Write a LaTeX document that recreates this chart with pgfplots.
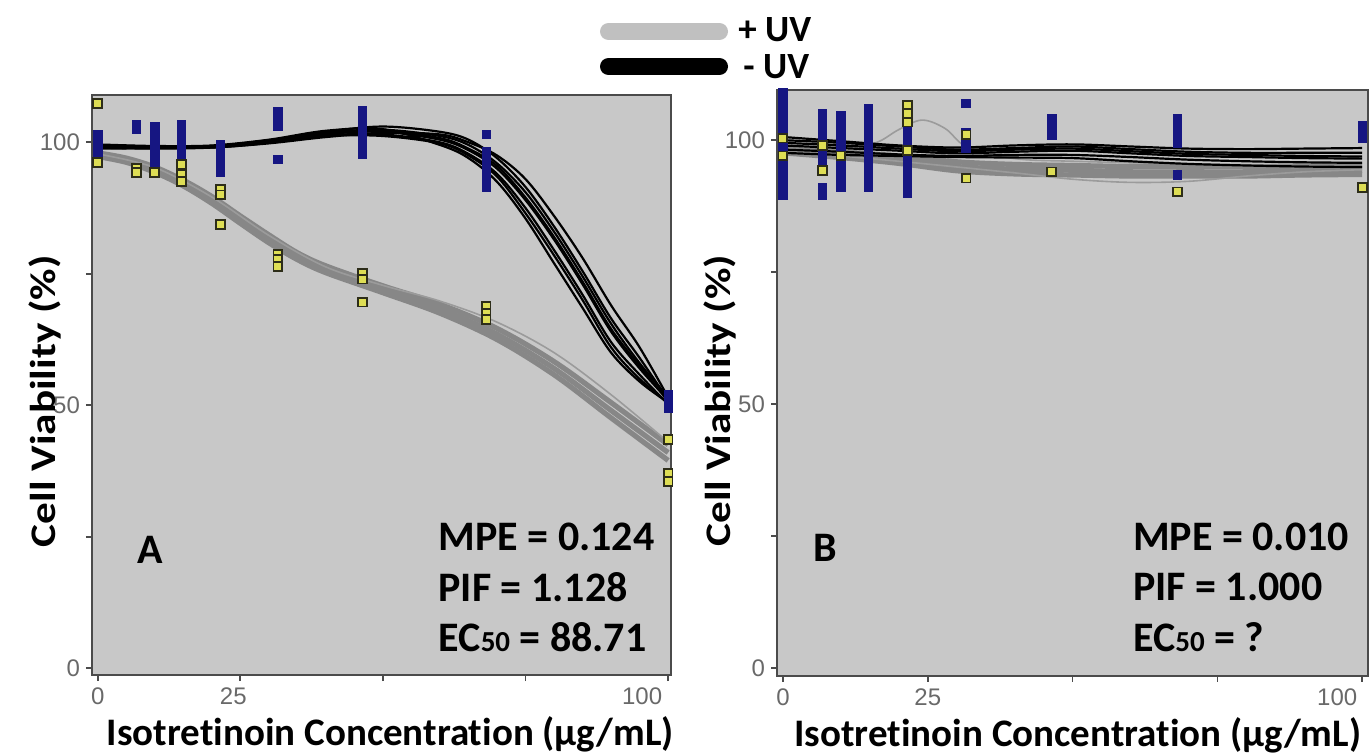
\documentclass[border=0pt]{standalone}
\usepackage{fontspec}
\setmainfont{Carlito}[Ligatures={NoCommon}]
\newfontfamily\tickfont{Liberation Sans}
\usepackage{graphicx}
\usepackage{pgfplots}
\pgfplotsset{compat=1.18}

\definecolor{plotbg}{RGB}{200,200,200}
\definecolor{framec}{RGB}{75,75,75}
\definecolor{uvgrey}{RGB}{135,135,135}
\definecolor{uvgreythin}{RGB}{155,155,155}
\definecolor{legendgrey}{RGB}{192,192,192}
\definecolor{navy}{RGB}{22,22,130}
\definecolor{ydot}{RGB}{222,222,85}
\definecolor{ydotedge}{RGB}{45,45,25}
\definecolor{ticktext}{RGB}{105,105,105}

\pgfplotsset{
  panel/.style={
    scale only axis,
    axis background/.style={fill=plotbg},
    axis line style={draw=framec, line width=1.4pt},
    xtick={0,25,50,75,100},
    ytick={0,25,50,75,100}, yticklabels={0,,50,,100},
    xtick pos=bottom, ytick pos=left,
    tick align=outside, major tick length=3pt,
    tick style={draw=framec, line width=0.9pt},
    ticklabel style={font=\tickfont\fontsize{12}{13}\selectfont, text=ticktext},
    yticklabel style={xshift=0.5pt},
    xlabel style={font=\bfseries\fontsize{19.5}{22}\selectfont},
    ylabel style={font=\bfseries\fontsize{18}{20}\selectfont},
    xlabel={Isotretinoin Concentration (µg/mL)},
    ylabel={\scalebox{1.2}[1]{Cell Viability (\%)}},
  },
  minusuv/.style={only marks, mark=square*, mark size=2.1pt, mark options={fill=navy, draw=navy}},
  plusuv/.style={only marks, mark=square*, mark size=2.2pt, mark options={fill=ydot, draw=ydotedge, line width=0.9pt}},
  fitblack/.style={black, line width=1.1pt, smooth, tension=0.55},
  fitgrey/.style={uvgrey, line width=2.6pt, smooth, tension=0.55},
}
\tikzset{
  stat/.style={font=\bfseries\fontsize{21}{25}\selectfont, anchor=west, inner sep=0pt},
  legtext/.style={anchor=west, inner sep=0pt, font=\bfseries\fontsize{18.5}{20}\selectfont},
}
\newcommand{\sub}[1]{{\fontsize{14.5}{17}\selectfont #1}}

\begin{document}
\begin{tikzpicture}

% ---------------- Panel A ----------------
\begin{axis}[panel,
  at={(46pt,40pt)}, anchor=south west,
  width=289.5pt, height=290pt,
  xmin=-1, xmax=100.5, ymin=-1.3, ymax=109,
  xticklabels={0,\hspace*{-7pt}25,,,\llap{100\hspace{3pt}}},
  xlabel style={at={(axis description cs:0.515,-0.103)}, anchor=center},
  ylabel style={at={(axis description cs:-0.081,0.472)}, anchor=center, rotate=0},
]
% replicate measurements, -UV
\addplot[minusuv] coordinates {
  (0,98) (0,99) (0,100) (0,101.5)
  (6.8,103.4) (6.8,102.5)
  (10,103) (10,101.5) (10,100) (10,98.5) (10,97) (10,95.8)
  (14.7,103.4) (14.7,102) (14.7,100.5) (14.7,99) (14.7,97.3)
  (21.5,99.6) (21.5,98) (21.5,96.5) (21.5,95) (21.5,94.3)
  (31.6,105.9) (31.6,104.5) (31.6,103) (31.6,96.8)
  (46.4,106) (46.4,104.5) (46.4,103) (46.4,101.5) (46.4,100) (46.4,98.5) (46.4,97.7)
  (68.1,101.5) (68.1,98.3) (68.1,97) (68.1,95.5) (68.1,94) (68.1,92.5) (68.1,91.4)
  (100,52) (100,51) (100,50) (100,49.5)
};
% replicate measurements, +UV
\addplot[plusuv] coordinates {
  (0,107.4) (0,96.2)
  (6.8,95) (6.8,94.3)
  (10,94.3)
  (14.7,95.8) (14.7,93.9) (14.7,92.6)
  (21.5,91) (21.5,90) (21.5,84.4)
  (31.6,78.7) (31.6,77.8) (31.6,76.4)
  (46.4,75) (46.4,74) (46.4,69.6)
  (68.1,68.8) (68.1,67.5) (68.1,66.3)
  (100,43.5) (100,37) (100,35.5)
};
% bootstrap fits, +UV
\addplot[fitgrey] coordinates {(0,97.6) (5,96.6) (10,94.8) (15,92.2) (20,89) (25,85.2) (30,81.6) (35,78.3) (40,75.8) (50,72) (60,68.3) (70,63.5) (80,57) (90,49) (100,41)};
\addplot[fitgrey] coordinates {(0,98) (5,97) (10,95.3) (15,92.8) (20,89.7) (25,86) (30,82.4) (35,79) (40,76.5) (50,72.7) (60,69.2) (70,64.6) (80,58.3) (90,50.5) (100,42.5)};
\addplot[fitgrey] coordinates {(0,97.3) (5,96.2) (10,94.3) (15,91.7) (20,88.4) (25,84.6) (30,80.9) (35,77.7) (40,75.2) (50,71.4) (60,67.5) (70,62.5) (80,55.8) (90,47.6) (100,39.5)};
\addplot[uvgreythin, line width=0.8pt, smooth, tension=0.55] coordinates {(0,97.8) (10,95.2) (20,89.6) (30,82.3) (40,76.3) (50,72.8) (60,69.8) (70,65.8) (80,60) (90,52) (100,43)};
% bootstrap fits, -UV
\addplot[fitblack] coordinates {(0,99.3) (10,99.0) (20,99.2) (30,100.2) (40,101.6) (50,102.0) (60,100.5) (65,98.5) (70,95) (75,89) (80,81.5) (85,73) (90,64) (95,57) (100,51)};
\addplot[fitblack] coordinates {(0,99.0) (10,98.8) (20,99.0) (30,99.8) (40,101.0) (50,101.8) (60,101.5) (65,100) (70,97.5) (75,93) (80,86) (85,78) (90,69) (95,61) (100,51.5)};
\addplot[fitblack] coordinates {(0,99.6) (10,99.3) (20,99.4) (30,100.5) (40,102.2) (50,102.5) (60,99.5) (65,97) (70,92.5) (75,85.5) (80,77) (85,68.5) (90,60) (95,54.5) (100,50.5)};
\addplot[fitblack] coordinates {(0,98.8) (10,98.9) (20,99.1) (30,100) (40,101.3) (50,101.5) (60,100) (65,97.8) (70,94) (75,87.5) (80,79.5) (85,71) (90,62) (95,55.8) (100,50.2)};
\addplot[fitblack] coordinates {(0,99.5) (10,99.2) (20,99.3) (30,100.4) (40,102) (50,103) (60,102) (65,100.5) (70,97) (75,91.5) (80,84) (85,75.5) (90,66.5) (95,59) (100,51)};
\addplot[fitblack] coordinates {(0,99.1) (10,99.1) (20,99.0) (30,99.9) (40,101.2) (50,101.2) (60,99.8) (65,97.5) (70,93.5) (75,86.5) (80,78.5) (85,70) (90,61) (95,55) (100,50.5)};
\addplot[fitblack] coordinates {(0,99.4) (10,99.2) (20,99.3) (30,100.3) (40,101.8) (50,102.4) (60,101.2) (65,99.5) (70,96) (75,90.5) (80,83) (85,74.5) (90,65.5) (95,58) (100,51.5)};
\addplot[fitblack] coordinates {(0,99.2) (10,99.0) (20,99.1) (30,100.1) (40,101.5) (50,102.2) (60,100.8) (65,98.8) (70,95.5) (75,89.5) (80,82) (85,73.5) (90,64.5) (95,57.5) (100,50.8)};

\node[font=\bfseries\fontsize{21}{25}\selectfont, anchor=center] at (rel axis cs:0.1,0.216) {A};
\node[stat] at (rel axis cs:0.598,0.238) {MPE = 0.124};
\node[stat] at (rel axis cs:0.598,0.152) {PIF = 1.128};
\node[stat] at (rel axis cs:0.598,0.0655) {EC\sub{50} = 88.71};
\end{axis}

% ---------------- Panel B ----------------
\begin{axis}[panel,
  at={(388.5pt,39.5pt)}, anchor=south west,
  width=295.5pt, height=293pt,
  xmin=-1.03, xmax=101, ymin=-1.5, ymax=109.5,
  xticklabels={0,25,,,\llap{100\hspace{2.5pt}}},
  xlabel style={at={(axis description cs:0.509,-0.1007)}, anchor=center},
  ylabel style={at={(axis description cs:-0.0964,0.47)}, anchor=center, rotate=0},
]
% replicate measurements, -UV
\addplot[minusuv] coordinates {
  (0,109) (0,107.5) (0,106) (0,104.5) (0,103) (0,101.5) (0,100) (0,98.5) (0,97) (0,95.5) (0,94) (0,92.5) (0,91) (0,89.5)
  (6.8,105) (6.8,103.5) (6.8,102) (6.8,100.5) (6.8,99) (6.8,97.5) (6.8,96) (6.8,91) (6.8,89.5)
  (10,104.7) (10,103) (10,101.5) (10,100) (10,98.5) (10,97) (10,95.5) (10,94) (10,92.5) (10,91)
  (14.7,106) (14.7,104.5) (14.7,103) (14.7,101.5) (14.7,100) (14.7,98.5) (14.7,97) (14.7,95.5) (14.7,94) (14.7,92.5) (14.7,91)
  (21.5,102) (21.5,100.5) (21.5,99) (21.5,97.5) (21.5,96) (21.5,94.5) (21.5,93) (21.5,91.5) (21.5,90)
  (31.6,107) (31.6,101.5) (31.6,100) (31.6,98.5)
  (46.4,104) (46.4,102.5) (46.4,101)
  (68.1,104) (68.1,102.5) (68.1,101) (68.1,99.5) (68.1,93.4)
  (100,102.8) (100,101.5) (100,100.4)
};
% replicate measurements, +UV
\addplot[plusuv] coordinates {
  (0,100.4) (0,97)
  (6.8,99) (6.8,94.3)
  (10,97)
  (21.5,106.6) (21.5,105) (21.5,103.4) (21.5,98)
  (31.6,101) (31.6,92.8)
  (46.4,94)
  (68.1,90.2)
  (100,91)
};
% bootstrap fits, +UV
\addplot[fitgrey] coordinates {(0,98) (10,97.2) (20,96.3) (30,95) (40,94.5) (50,94.3) (60,94) (70,94) (80,94) (90,94.2) (100,94.3)};
\addplot[fitgrey] coordinates {(0,98.5) (10,97.8) (20,97) (30,95.9) (40,95.4) (50,95.2) (60,95) (70,95) (80,95) (90,95.1) (100,95.2)};
\addplot[fitgrey] coordinates {(0,97.6) (10,96.7) (20,95.6) (30,94.2) (40,93.6) (50,93.4) (60,93.2) (70,93.2) (80,93.2) (90,93.4) (100,93.5)};
\addplot[uvgreythin, line width=0.8pt, smooth, tension=0.55] coordinates {(0,99) (10,98.5) (16,99.5) (20,102) (24,103.8) (28,102.2) (32,98.5) (40,96.5) (50,96) (70,95.5) (100,95)};
\addplot[uvgreythin, line width=0.8pt, smooth, tension=0.55] coordinates {(0,98) (20,96) (40,93.8) (50,92.6) (60,92) (70,92.2) (80,93.2) (90,94) (100,94.4)};
% bootstrap fits, -UV
\addplot[fitblack] coordinates {(0,99) (10,98.5) (20,98) (30,97.5) (40,97.8) (50,98) (60,97.5) (70,97) (80,96.8) (90,96.6) (100,96.5)};
\addplot[fitblack] coordinates {(0,100) (10,99.5) (20,98.8) (30,98.2) (40,98.5) (50,98.8) (60,98.3) (70,97.8) (80,97.6) (90,97.6) (100,97.6)};
\addplot[fitblack] coordinates {(0,98.2) (10,97.8) (20,97.3) (30,97) (40,97.2) (50,97.2) (60,96.8) (70,96.3) (80,96) (90,95.8) (100,95.7)};
\addplot[fitblack] coordinates {(0,100.6) (10,99.8) (20,99) (30,98.6) (40,99) (50,99.2) (60,98.8) (70,98.4) (80,98.3) (90,98.4) (100,98.5)};
\addplot[fitblack] coordinates {(0,97.6) (10,97.2) (20,97) (30,96.8) (40,96.7) (50,96.6) (60,96) (70,95.5) (80,95.2) (90,95) (100,94.9)};
\addplot[fitblack] coordinates {(0,99.5) (10,99) (20,98.4) (30,97.9) (40,98.2) (50,98.4) (60,97.9) (70,97.4) (80,97.2) (90,97) (100,96.9)};

\node[font=\bfseries\fontsize{21}{25}\selectfont, anchor=center] at (rel axis cs:0.081,0.218) {B};
\node[stat] at (rel axis cs:0.602,0.237) {MPE = 0.010};
\node[stat] at (rel axis cs:0.602,0.152) {PIF = 1.000};
\node[stat] at (rel axis cs:0.602,0.0666) {EC\sub{50} = ?};
\end{axis}

% legend
\draw[legendgrey, line width=8.5pt, line cap=round] (304.25pt,361.75pt) -- (359.75pt,361.75pt);
\draw[black, line width=8.5pt, line cap=round] (304.25pt,344.25pt) -- (359.75pt,344.25pt);
\node[legtext] at (369pt,362.5pt) {+ UV};
\node[legtext] at (371.5pt,344.25pt) {- UV};

\pgfresetboundingbox
\path (0pt,0pt) rectangle (685.5pt,377.5pt);
\end{tikzpicture}
\end{document}
